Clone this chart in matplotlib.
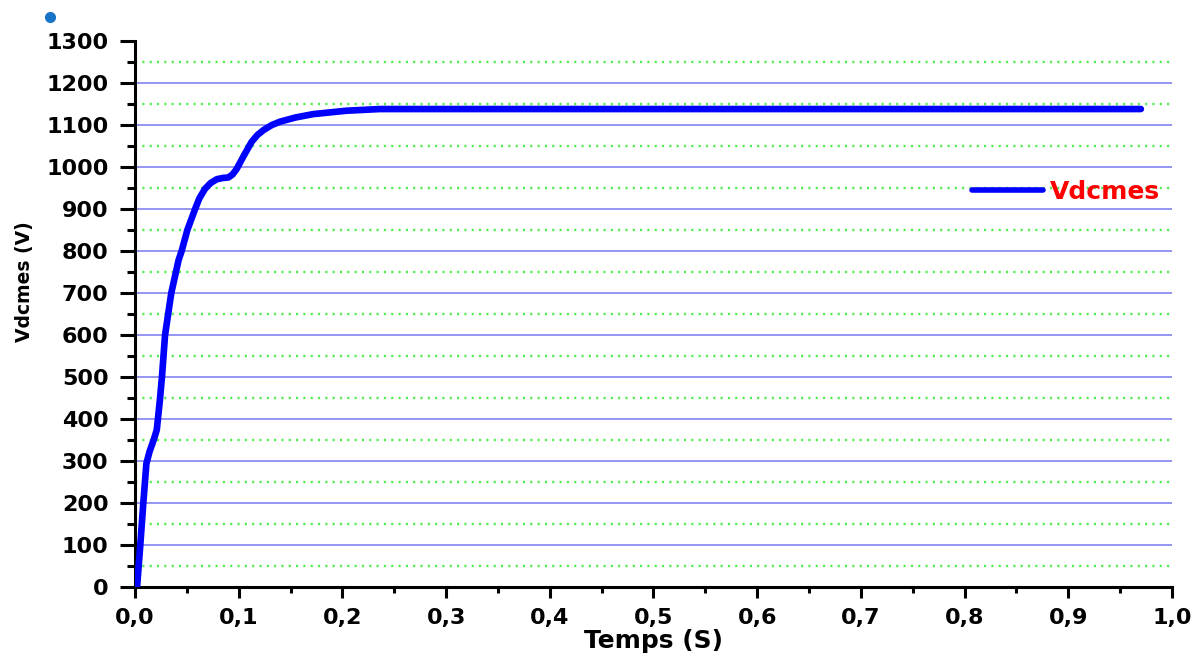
import numpy as np
import matplotlib
matplotlib.use('Agg')
import matplotlib.pyplot as plt
from matplotlib.ticker import MultipleLocator, FuncFormatter
from matplotlib.lines import Line2D

# Vdcmes response (time in s, voltage in V)
t = [0.0, 0.002, 0.005, 0.008, 0.011, 0.014, 0.018, 0.021, 0.024, 0.026, 0.029,
     0.032, 0.035, 0.0395, 0.042, 0.045, 0.0505, 0.055, 0.058, 0.062, 0.0675, 0.073,
     0.079, 0.085, 0.090, 0.094, 0.098, 0.1045, 0.1125, 0.118, 0.124, 0.132,
     0.140, 0.155, 0.172, 0.188, 0.204, 0.220, 0.236, 0.260, 0.300, 0.400,
     0.500, 0.600, 0.700, 0.800, 0.900, 0.970]
vdc = [0, 0, 96, 199, 294, 322, 350, 374, 445, 500, 600,
       650, 700, 750, 778, 800, 850, 880, 900, 925, 948, 962,
       971, 974, 975, 982, 995, 1025, 1060, 1076, 1088, 1100,
       1108, 1118, 1126, 1130, 1134, 1136, 1138, 1138, 1138, 1138,
       1138, 1138, 1138, 1138, 1138, 1138]
series_name = 'Vdcmes'

fig = plt.figure(figsize=(12.02, 6.55), dpi=100)
ax = fig.add_axes([0.1123, 0.1038, 0.8627, 0.8336])

ax.plot(t, vdc, color='#0000ff', lw=4.8, solid_capstyle='round', solid_joinstyle='round',
        label=series_name, zorder=3)

ax.set_xlim(0, 1.0)
ax.set_ylim(0, 1300)
ax.xaxis.set_major_locator(MultipleLocator(0.1))
ax.xaxis.set_minor_locator(MultipleLocator(0.05))
ax.yaxis.set_major_locator(MultipleLocator(100))
ax.yaxis.set_minor_locator(MultipleLocator(50))
ax.xaxis.set_major_formatter(FuncFormatter(lambda v, p: f'{v:.1f}'.replace('.', ',')))
ax.yaxis.set_major_formatter(FuncFormatter(lambda v, p: f'{int(round(v))}'))

# grid: solid blue on majors, dotted green on minors (horizontal only)
for v in np.arange(100, 1300, 100):
    ax.axhline(v, color='#8c8cf0', lw=1.3, zorder=1)
for v in np.arange(50, 1300, 100):
    ax.axhline(v, color='#4fee4f', lw=1.7, ls=(0, (0.9, 2.2)), zorder=1)

for s in ['top', 'right']:
    ax.spines[s].set_visible(False)
for s in ['left', 'bottom']:
    ax.spines[s].set_linewidth(2.2)

ax.tick_params(axis='y', which='major', length=11, width=2.2, direction='out', pad=8)
ax.tick_params(axis='y', which='minor', length=6, width=2.2, direction='out')
ax.tick_params(axis='x', which='major', length=8, width=2.2, direction='out', pad=7)
ax.tick_params(axis='x', which='minor', length=4.5, width=2.2, direction='out')
for lab in ax.get_xticklabels() + ax.get_yticklabels():
    lab.set_fontsize(16)
    lab.set_fontweight('bold')
    lab.set_family('DejaVu Sans')

ax.set_xlabel('Temps (S)', fontsize=18, fontweight='bold', labelpad=1)
ax.set_ylabel('Vdcmes (V)', fontsize=13.5, fontweight='bold')
ax.yaxis.set_label_coords(-0.097, 0.5586)

leg = ax.legend(loc='center left', bbox_to_anchor=(0.807, 0.7234), frameon=False,
                borderpad=0, borderaxespad=0, handlelength=2.84, handletextpad=0.28,
                prop={'size': 18, 'weight': 'bold'}, labelcolor='#ff0000')
for h in leg.get_lines():
    h.set_linewidth(4)

# little bullet in the top left corner of the original page
fig.add_artist(Line2D([0.0416], [0.974], marker='o', markersize=7, color='#1874c8',
                      transform=fig.transFigure))

fig.savefig('out.png', dpi=100)
